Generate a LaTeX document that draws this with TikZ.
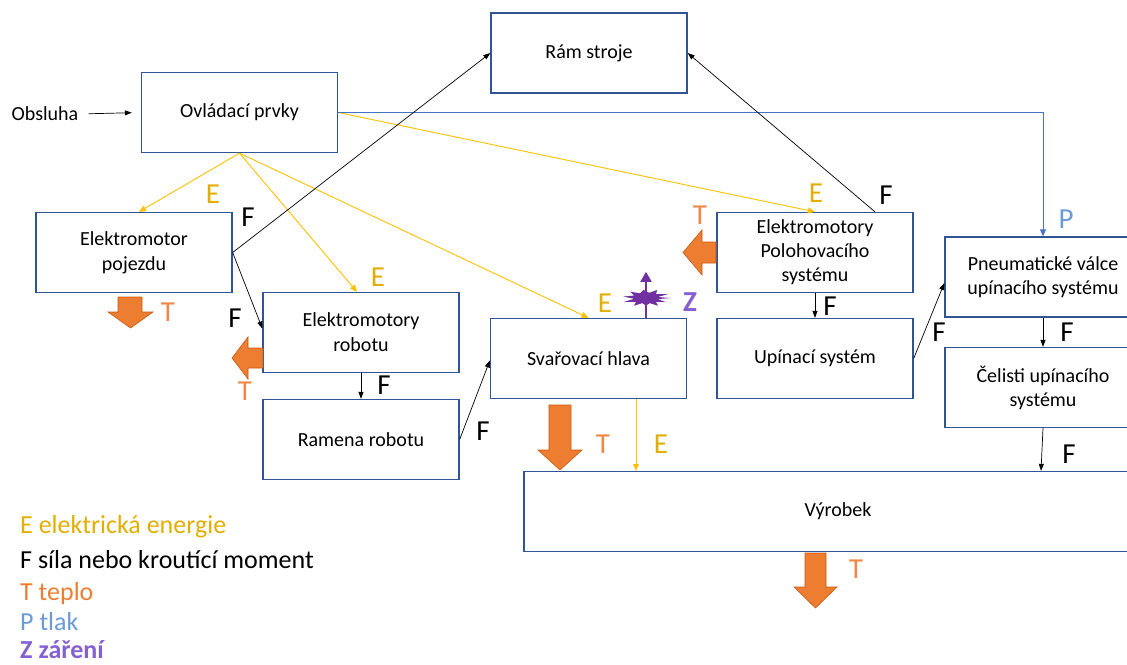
\documentclass[tikz,border=0pt]{standalone}
\usepackage{fontspec}
\setmainfont{Carlito}
\usetikzlibrary{arrows.meta,calc}
\definecolor{boxblue}{HTML}{2F5597}
\definecolor{eyel}{HTML}{FFC000}
\definecolor{etext}{HTML}{E2AE00}
\definecolor{torange}{HTML}{ED7D31}
\definecolor{tdark}{HTML}{C55A11}
\definecolor{tlabel}{HTML}{F0884A}
\definecolor{pblue}{HTML}{4472C4}
\definecolor{plabel}{HTML}{6A9BD6}
\definecolor{zpurple}{HTML}{7030A0}
\definecolor{zlabel}{HTML}{8560D0}
\begin{document}
\begin{tikzpicture}[x=1pt,y=-1pt,
  box/.style={draw=boxblue, line width=1.3pt, minimum width=196pt, minimum height=80pt, inner sep=0pt, align=center, font=\fontsize{20}{25}\selectfont},
  lbl/.style={font=\fontsize{29}{30}\selectfont, inner sep=0pt},
  earr/.style={draw=eyel, line width=0.9pt, -{Triangle[length=7pt,width=6pt]}},
  farr/.style={draw=black, line width=0.7pt, -{Triangle[length=7pt,width=5pt]}},
  parr/.style={draw=pblue, line width=0.9pt, -{Triangle[length=7pt,width=6pt]}},
  heat/.style={fill=torange, draw=tdark, line width=0.6pt},
  leg/.style={anchor=base west, font=\fontsize{26}{28}\selectfont, inner sep=0pt}
]
\useasboundingbox (0,0) rectangle (1127,664);

% boxes
\node[box] (ram) at (589,53) {Rám stroje};
\node[box] (ovl) at (239.5,112.5) {Ovládací prvky};
\node[box] (poj) at (134,252.5) {Elektromotor\\pojezdu};
\node[box] (rob) at (361,332.5) {Elektromotory\\robotu};
\node[box] (ramr) at (361,439.5) {Ramena robotu};
\node[box] (svar) at (588.5,358.5) {Svařovací hlava};
\node[box, font=\fontsize{20}{24}\selectfont] (pol) at (815,252.5) {Elektromotory\\Polohovacího\\systému};
\node[box] (upi) at (815,358.5) {Upínací systém};
\node[box, font=\fontsize{20}{24}\selectfont] (pne) at (1043,277) {Pneumatické válce\\upínacího systému};
\node[box, font=\fontsize{20}{24}\selectfont] (cel) at (1043,387.5) {Čelisti upínacího\\systému};
\node[box, minimum width=628pt] (vyr) at (838,511.5) {Výrobek};
\node[font=\fontsize{20}{25}\selectfont, inner sep=0pt] (obs) at (45,114) {Obsluha};

% connectors
\draw[farr, shorten <=10pt, shorten >=9pt] (obs.east) -- (ovl.west);
\draw[earr] (ovl.south) -- ($(poj.north)+(5,0)$);
\draw[earr] (ovl.south) -- ($(rob.north)+(-4,0)$);
\draw[earr] (ovl.south) -- (svar.north);
\draw[earr] (ovl.east) -- (pol.north);
\draw[parr] (ovl.east) -| (pne.north);
\draw[farr] (poj.east) -- (ram.west);
\draw[farr] (poj.east) -- ($(rob.west)+(0,-4)$);
\draw[farr] ($(pol.north)+(60,0)$) -- (ram.east);
\draw[farr] (rob.south) -- (ramr.north);
\draw[farr] (ramr.east) -- ($(svar.west)+(0,2)$);
\draw[farr] (pol.south) -- (upi.north);
\draw[farr] (upi.east) -- ($(pne.west)+(0,6)$);
\draw[farr] (pne.south) -- (cel.north);
\draw[farr] (cel.south) -- ([xshift=-2pt]cel.south |- vyr.north);
\draw[earr] ([xshift=47.5pt]svar.south) -- ([xshift=47.5pt]svar.south |- vyr.north);

% heat block arrows
\path[heat] (118,297) -- (142,297) -- (142,312) -- (153,312) -- (130.5,328) -- (108,312) -- (118,312) -- cycle;
\path[heat] (549,405) -- (571,405) -- (571,450) -- (582,450) -- (560,470) -- (538,450) -- (549,450) -- cycle;
\path[heat] (805,553) -- (826,553) -- (826,587) -- (837,587) -- (815.5,608) -- (794,587) -- (805,587) -- cycle;
\path[heat] (263,348) -- (248,348) -- (248,337) -- (232,358) -- (248,379) -- (248,368) -- (263,368) -- cycle;
\path[heat] (716,242) -- (702,242) -- (702,230) -- (683,252.5) -- (702,275) -- (702,263) -- (716,263) -- cycle;

% radiation symbol
\begin{scope}[shift={(646,298)}, yscale=0.45]
\fill[zpurple] (0:25) -- (12:12) -- (25:22) -- (40:13) -- (55:21) -- (72:12) -- (90:17) -- (108:12) -- (125:21) -- (140:13) -- (158:24) -- (172:12) -- (188:23) -- (205:13) -- (222:21) -- (240:12) -- (262:18) -- (285:12) -- (302:21) -- (320:13) -- (338:24) -- (350:12) -- cycle;
\end{scope}
\draw[zpurple, line width=2pt, -{Triangle[length=10pt,width=11pt]}] ([xshift=57.5pt]svar.north) -- ++(0,-46);

% flow labels
\node[lbl, text=etext] at (213,194) {E};
\node[lbl] at (248,217) {F};
\node[lbl] at (235,318) {F};
\node[lbl, text=tlabel] at (245,391) {T};
\node[lbl, text=tlabel] at (168,312) {T};
\node[lbl, text=etext] at (378,277) {E};
\node[lbl] at (384,385) {F};
\node[lbl] at (483,431) {F};
\node[lbl, text=etext] at (605,303) {E};
\node[lbl, text=zlabel, font=\fontsize{29}{30}\selectfont\bfseries] at (690,302) {Z};
\node[lbl, text=tlabel] at (700,215) {T};
\node[lbl, text=etext] at (816,193) {E};
\node[lbl] at (886,195) {F};
\node[lbl, text=plabel] at (1066,219) {P};
\node[lbl] at (830,306) {F};
\node[lbl] at (939,332) {F};
\node[lbl] at (1067,332) {F};
\node[lbl] at (1069,454) {F};
\node[lbl, text=tlabel] at (603,444) {T};
\node[lbl, text=etext] at (661,444) {E};
\node[lbl, text=tlabel] at (856,569) {T};

% legend
\node[leg, text=etext] (lege) at (20,533) {E elektrická energie};
\node[leg] (legf) at (20,568) {F síla nebo kroutící moment};
\node[leg, text=torange] (legt) at (20,600) {T teplo};
\node[leg, text=plabel] (legp) at (20,630) {P tlak};
\node[leg, text=zlabel, font=\fontsize{26}{28}\selectfont\bfseries] (legz) at (20,658) {Z záření};
\end{tikzpicture}
\end{document}
